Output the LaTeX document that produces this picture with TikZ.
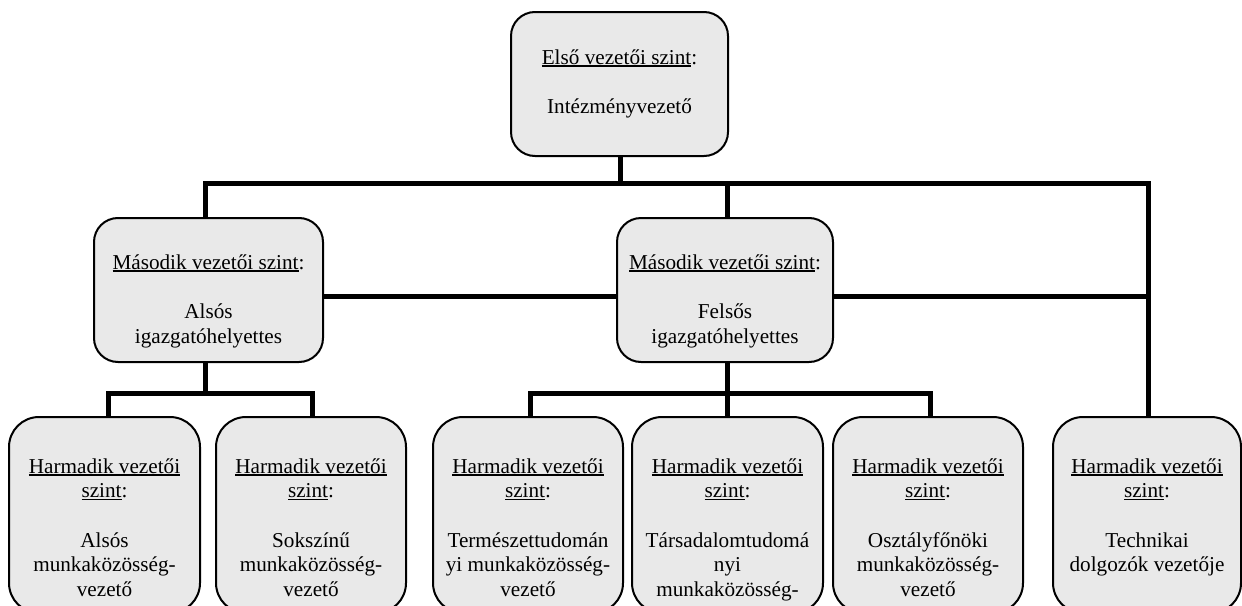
\documentclass[tikz,border=0pt]{standalone}
\usepackage{fontspec}
\setmainfont{Liberation Serif}
\usetikzlibrary{calc}
\newsavebox\ulsbox
\newcommand\myul[1]{\sbox\ulsbox{#1}\rlap{\rule[-2.6pt]{\wd\ulsbox}{1.2pt}}\usebox\ulsbox}
\definecolor{boxgray}{RGB}{233,233,233}
\begin{document}
\begin{tikzpicture}[x=1pt,y=-1pt,
  box/.style={draw=black, line width=2pt, fill=boxgray, inner sep=0pt, outer sep=0pt},
  upper/.style={box, minimum height=144pt, rounded corners=24pt},
  lower/.style={box, minimum height=196pt, minimum width=190pt, rounded corners=30pt},
  txt/.style={align=center, inner sep=0pt, outer sep=0pt, anchor=north, font=\fontsize{21.2}{24.5}\selectfont},
  conn/.style={line width=5pt, line join=miter}]
\clip (0,0) rectangle (1242,605);
\fill[white] (0,0) rectangle (1242,605);

% boxes
\node[upper, minimum width=217pt] (top) at (619.5,84) {};
\node[upper, minimum width=229pt] (l1a) at (208.5,290) {};
\node[upper, minimum width=216pt] (l1b) at (725,290) {};
\node[lower, minimum width=191pt] (b1) at (104.5,515) {};
\node[lower] (b2) at (311,515) {};
\node[lower] (b3) at (528,515) {};
\node[lower, minimum width=191pt] (b4) at (727.5,515) {};
\node[lower] (b5) at (928,515) {};
\node[lower, minimum width=188pt] (b6) at (1147,515) {};

% junction coordinates
\coordinate (jT) at (620,183);
\coordinate (jL) at (205,183);
\coordinate (jM) at (727,183);
\coordinate (jR) at (1148,183);
\coordinate (jRm) at (1148,296);
\coordinate (aS) at (205,393);
\coordinate (a1) at (108,393);
\coordinate (a2) at (312,393);
\coordinate (bS) at (727,393);
\coordinate (c1) at (530,393);
\coordinate (c2) at (930,393);

% connectors
\draw[conn] (top.south -| jT) -- (jT);
\draw[conn] (l1a.north -| jL) -- (jL) -- (jR) -- (b6.north -| jR);
\draw[conn] (jM) -- (l1b.north -| jM);
\draw[conn] ([yshift=-6pt]l1a.east) -- ([yshift=-6pt]l1b.west);
\draw[conn] ([yshift=-6pt]l1b.east) -- (jRm);
\draw[conn] (l1a.south -| aS) -- (aS);
\draw[conn] (b1.north -| a1) -- (a1) -- (a2) -- (b2.north -| a2);
\draw[conn] (l1b.south -| bS) -- (bS);
\draw[conn] (b3.north -| c1) -- (c1) -- (c2) -- (b5.north -| c2);
\draw[conn] (bS) -- (b4.north -| bS);

% texts
\node[txt] (topt) at ($(top.north)+(0,34.85)$) {\strut\myul{Első vezetői szint}:\\[25pt]Intézményvezető};
\node[txt] (l1at) at ($(l1a.north)+(0,33.85)$) {\strut\myul{Második vezetői szint}:\\[25pt]Alsós\\igazgatóhelyettes};
\node[txt] (l1bt) at ($(l1b.north)+(0,33.85)$) {\strut\myul{Második vezetői szint}:\\[25pt]Felsős\\igazgatóhelyettes};
\node[txt] (b1t) at ($(b1.north)+(0,38.85)$) {\strut\myul{Harmadik vezetői}\\\myul{szint}:\\[25pt]Alsós\\munkaközösség-\\vezető};
\node[txt] (b2t) at ($(b2.north)+(0,38.85)$) {\strut\myul{Harmadik vezetői}\\\myul{szint}:\\[25pt]Sokszínű\\munkaközösség-\\vezető};
\node[txt] (b3t) at ($(b3.north)+(0,38.85)$) {\strut\myul{Harmadik vezetői}\\\myul{szint}:\\[25pt]Természettudomán\\yi munkaközösség-\\vezető};
\node[txt] (b4t) at ($(b4.north)+(0,38.85)$) {\strut\myul{Harmadik vezetői}\\\myul{szint}:\\[25pt]Társadalomtudomá\\nyi\\munkaközösség-};
\node[txt] (b5t) at ($(b5.north)+(0,38.85)$) {\strut\myul{Harmadik vezetői}\\\myul{szint}:\\[25pt]Osztályfőnöki\\munkaközösség-\\vezető};
\node[txt] (b6t) at ($(b6.north)+(0,38.85)$) {\strut\myul{Harmadik vezetői}\\\myul{szint}:\\[25pt]Technikai\\dolgozók vezetője};
\end{tikzpicture}
\end{document}
